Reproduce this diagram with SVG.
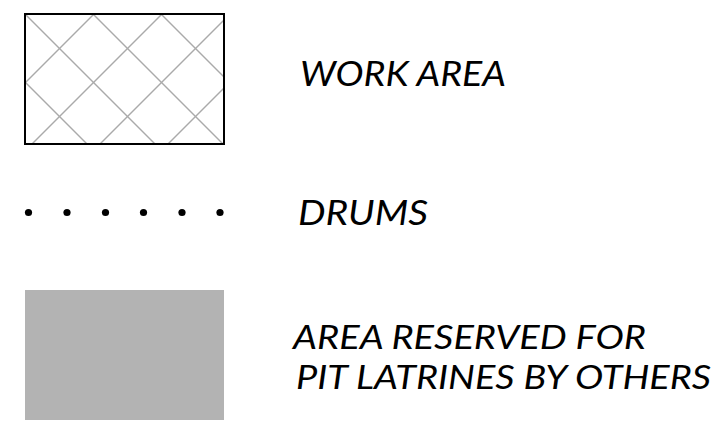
<svg xmlns="http://www.w3.org/2000/svg" width="720" height="424" viewBox="0 0 720 424">
<style>
.lbl{font-family:Lato,"Open Sans","Liberation Sans",sans-serif;font-style:italic;font-size:35px;fill:#000}
.sm{font-size:33px}
.hatch{stroke:#aaaaaa;stroke-width:1.4;fill:none}
</style>
<defs>
<clipPath id="wclip"><rect x="25" y="14" width="199" height="130"/></clipPath>
</defs>
<rect width="720" height="424" fill="#fff"/>
<g id="work-area">
<g class="hatch" clip-path="url(#wclip)">
<line x1="-32" y1="25" x2="143" y2="200"/>
<line x1="11" y1="0" x2="211" y2="200"/>
<line x1="79" y1="0" x2="279" y2="200"/>
<line x1="147" y1="0" x2="347" y2="200"/>
<line x1="108" y1="0" x2="-92" y2="200"/>
<line x1="176" y1="0" x2="-24" y2="200"/>
<line x1="244" y1="0" x2="44" y2="200"/>
<line x1="312" y1="0" x2="112" y2="200"/>
</g>
<rect x="25" y="14" width="199" height="130" fill="none" stroke="#000" stroke-width="2"/>
<text class="lbl" x="300" y="86" textLength="206" lengthAdjust="spacingAndGlyphs">WORK AREA</text>
</g>
<g id="drums">
<g fill="#000">
<circle cx="28.5" cy="212.5" r="3.6"/>
<circle cx="67" cy="212.5" r="3.6"/>
<circle cx="105.5" cy="212.5" r="3.6"/>
<circle cx="143.5" cy="212.5" r="3.6"/>
<circle cx="182" cy="212.5" r="3.6"/>
<circle cx="220" cy="212.5" r="3.6"/>
</g>
<text class="lbl" x="298" y="225" textLength="130" lengthAdjust="spacingAndGlyphs">DRUMS</text>
</g>
<g id="pit-latrines">
<rect x="25" y="290" width="199" height="130" fill="#b3b3b3"/>
<text class="lbl sm" x="293" y="349" textLength="353" lengthAdjust="spacingAndGlyphs">AREA RESERVED FOR</text>
<text class="lbl sm" x="296" y="389" textLength="415" lengthAdjust="spacingAndGlyphs">PIT LATRINES BY OTHERS</text>
</g>
</svg>
